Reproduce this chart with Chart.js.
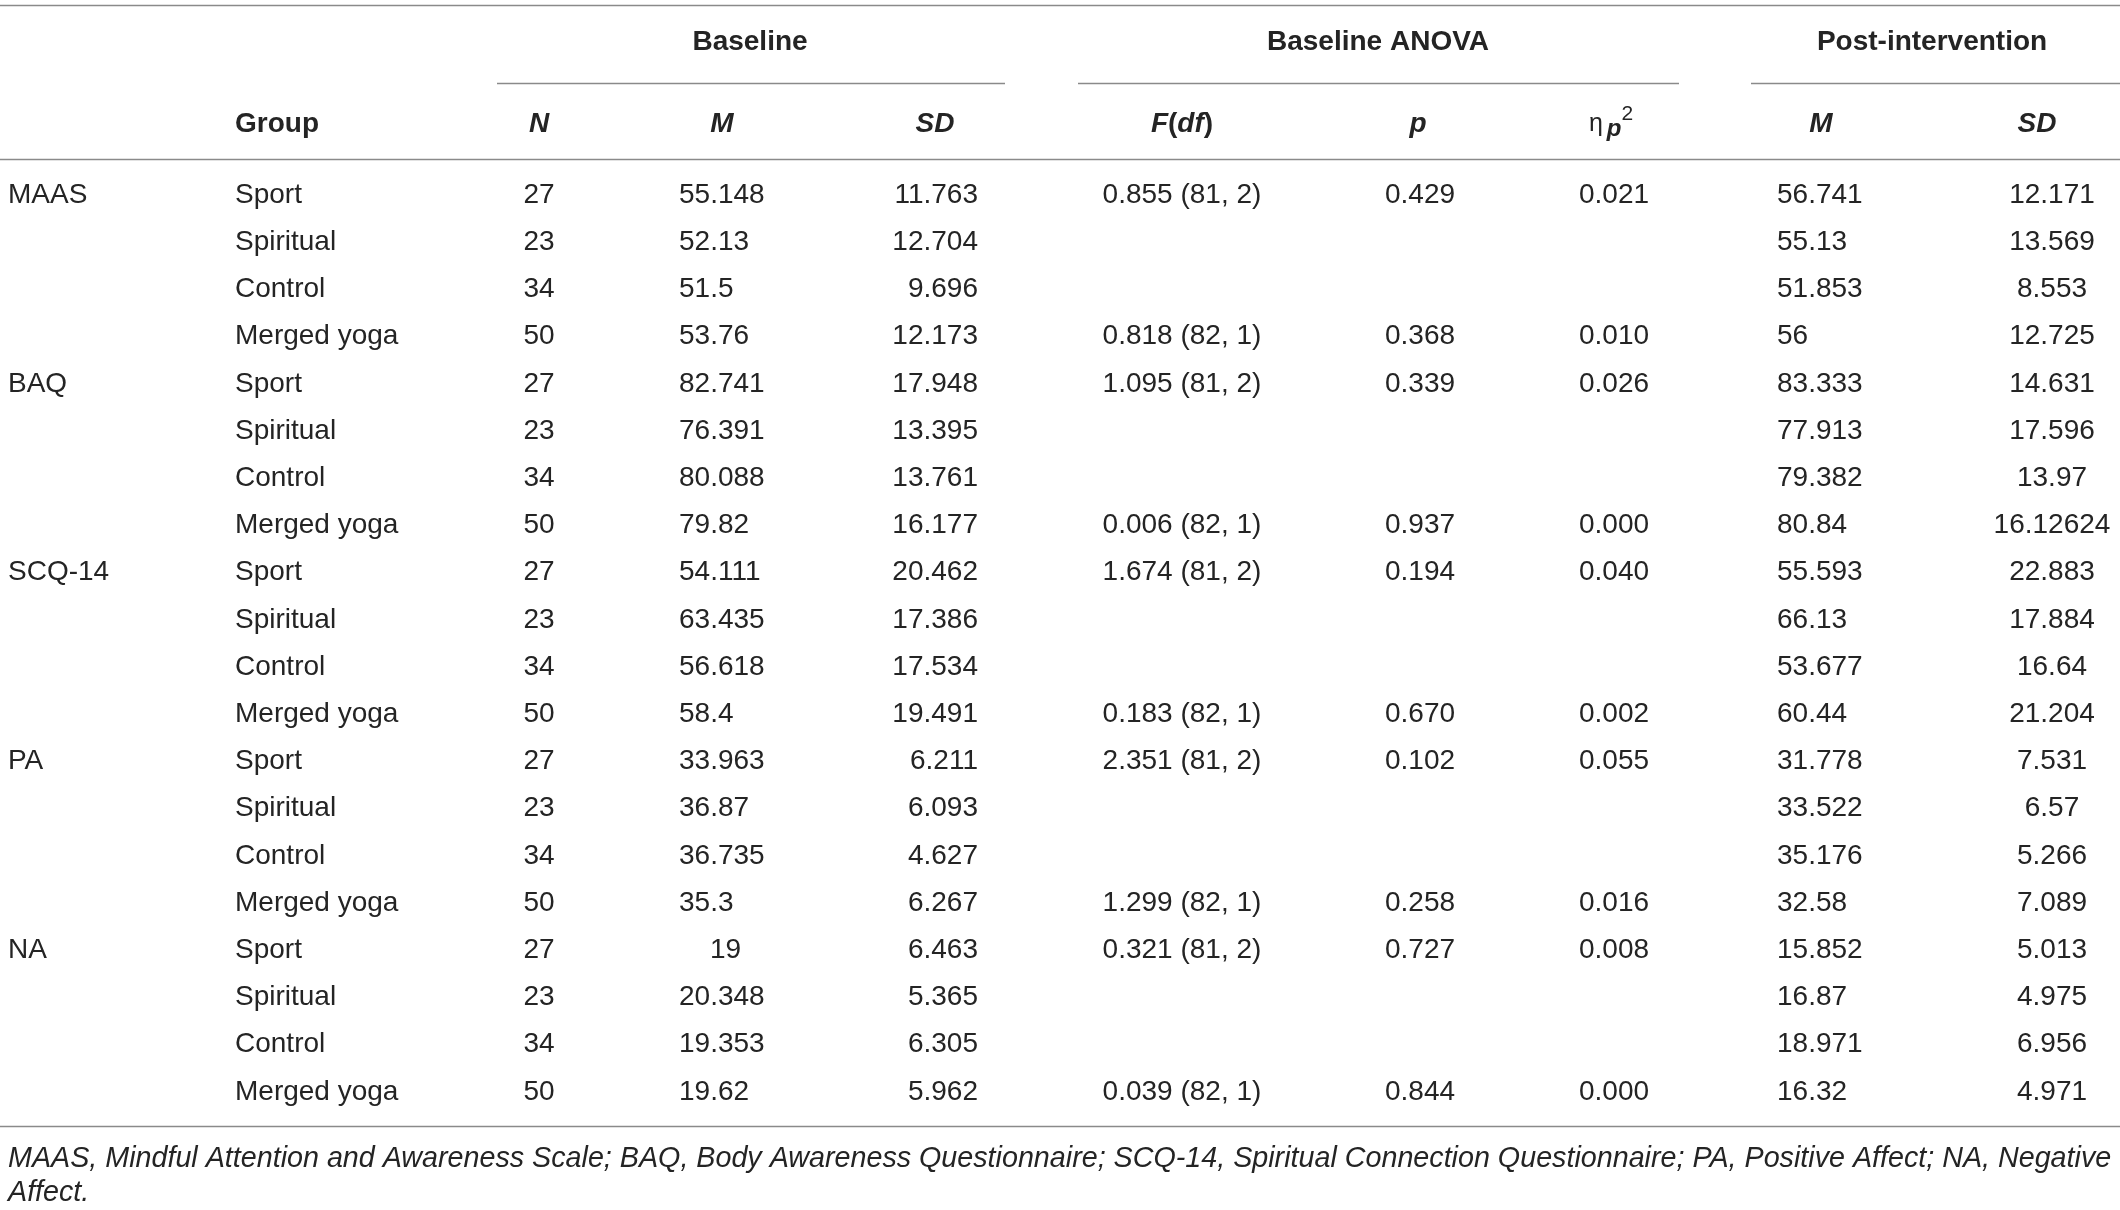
<!DOCTYPE html>
<html>
<head>
<meta charset="utf-8">
<script src="https://cdn.jsdelivr.net/npm/chart.js@4/dist/chart.umd.min.js"></script>
<style>
  html, body { margin: 0; padding: 0; background: #fff; }
  #wrap { width: 2120px; height: 1210px; position: relative; }
</style>
</head>
<body>
<div id="wrap"><canvas id="table-chart"></canvas></div>
<script>
// table contents, row order: Sport, Spiritual, Control, Merged yoga for each measure
const measures = ["MAAS", "BAQ", "SCQ-14", "PA", "NA"];
const groups = ["Sport", "Spiritual", "Control", "Merged yoga"];
const groupN = ["27", "23", "34", "50"];

const baseM = ["55.148", "52.13", "51.5", "53.76", "82.741", "76.391", "80.088", "79.82",
    "54.111", "63.435", "56.618", "58.4", "33.963", "36.87", "36.735", "35.3",
    "19", "20.348", "19.353", "19.62"];
const baseSD = ["11.763", "12.704", "9.696", "12.173", "17.948", "13.395", "13.761", "16.177",
    "20.462", "17.386", "17.534", "19.491", "6.211", "6.093", "4.627", "6.267",
    "6.463", "5.365", "6.305", "5.962"];

// ANOVA only on the Sport row (3 groups) and the Merged yoga row (2 groups)
const anovaF = ["0.855 (81, 2)", "0.818 (82, 1)", "1.095 (81, 2)", "0.006 (82, 1)",
    "1.674 (81, 2)", "0.183 (82, 1)", "2.351 (81, 2)", "1.299 (82, 1)",
    "0.321 (81, 2)", "0.039 (82, 1)"];
const anovaP = ["0.429", "0.368", "0.339", "0.937", "0.194", "0.670", "0.102", "0.258", "0.727", "0.844"];
const anovaEta = ["0.021", "0.010", "0.026", "0.000", "0.040", "0.002", "0.055", "0.016", "0.008", "0.000"];

const postM = ["56.741", "55.13", "51.853", "56", "83.333", "77.913", "79.382", "80.84",
    "55.593", "66.13", "53.677", "60.44", "31.778", "33.522", "35.176", "32.58",
    "15.852", "16.87", "18.971", "16.32"];
const postSD = ["12.171", "13.569", "8.553", "12.725", "14.631", "17.596", "13.97", "16.12624",
    "22.883", "17.884", "16.64", "21.204", "7.531", "6.57", "5.266", "7.089",
    "5.013", "4.975", "6.956", "4.971"];

const spanHeaders = ["Baseline", "Baseline ANOVA", "Post-intervention"];
const footnote = [
    "MAAS, Mindful Attention and Awareness Scale; BAQ, Body Awareness Questionnaire; SCQ-14, Spiritual Connection Questionnaire; PA, Positive Affect; NA, Negative",
    "Affect."
];

const FONT = "'Liberation Sans', Arial, Helvetica, sans-serif";
const TEXT = "#242424";
const RULE = "#8a8a8a";

// column x (in px units of the x scale) and alignment
const cols = {
    measure: { x: 8, align: "left" },
    group: { x: 235, align: "left" },
    n: { x: 539, align: "center" },
    bm: { x: 679, align: "left" },
    bsd: { x: 978, align: "right" },
    f: { x: 1182, align: "center" },
    p: { x: 1420, align: "center" },
    eta: { x: 1614, align: "center" },
    pm: { x: 1777, align: "left" },
    psd: { x: 2052, align: "center" }
};
// the lone "19" in baseline M sits indented in the original
const bmIndent = { 16: 31 };

// draw a list of styled runs as one piece of text
function drawRuns(ctx, runs, x, y, align) {
    let total = 0;
    runs.forEach(r => { ctx.font = r.font; total += ctx.measureText(r.text).width; });
    let cx = align === "center" ? x - total / 2 : (align === "right" ? x - total : x);
    ctx.textAlign = "left";
    runs.forEach(r => {
        ctx.font = r.font;
        ctx.fillText(r.text, cx, y + (r.dy || 0));
        cx += ctx.measureText(r.text).width;
    });
}

const tablePlugin = {
    id: "tableText",
    afterDraw(chart) {
        const ctx = chart.ctx;
        const xs = chart.scales.x;
        const ys = chart.scales.y;
        const px = v => xs.getPixelForValue(v);
        const py = v => ys.getPixelForValue(v);

        ctx.save();
        ctx.fillStyle = TEXT;
        ctx.textBaseline = "middle";

        const reg = "28px " + FONT;
        const bold = "bold 28px " + FONT;
        const boldIt = "italic bold 28px " + FONT;
        const it = "italic 28.7px " + FONT;

        function cell(text, col, row, font) {
            ctx.font = font || reg;
            ctx.textAlign = col.align;
            ctx.fillText(text, px(col.x), py(row));
        }

        // rules
        ctx.strokeStyle = RULE;
        ctx.lineWidth = 1.6;
        function hline(x0, x1, row) {
            const y = Math.round(py(row)) + 0.5;
            ctx.beginPath();
            ctx.moveTo(px(x0), y);
            ctx.lineTo(px(x1), y);
            ctx.stroke();
        }
        hline(0, 2120, -4.03);
        hline(497, 1005, -2.37);
        hline(1078, 1679, -2.37);
        hline(1751, 2120, -2.37);
        hline(0, 2120, -0.77);
        hline(0, 2120, 19.72);

        // spanning headers
        cell(spanHeaders[0], { x: 750, align: "center" }, -3.24, bold);
        cell(spanHeaders[1], { x: 1378, align: "center" }, -3.24, bold);
        cell(spanHeaders[2], { x: 1932, align: "center" }, -3.24, bold);

        // column headers
        const hy = -1.5;
        cell("Group", cols.group, hy, bold);
        cell("N", { x: 539, align: "center" }, hy, boldIt);
        cell("M", { x: 722, align: "center" }, hy, boldIt);
        cell("SD", { x: 935, align: "center" }, hy, boldIt);
        drawRuns(ctx, [
            { text: "F", font: boldIt },
            { text: "(", font: bold },
            { text: "df", font: boldIt },
            { text: ")", font: bold }
        ], px(1182), py(hy), "center");
        cell("p", { x: 1418, align: "center" }, hy, boldIt);
        drawRuns(ctx, [
            { text: "η", font: "25px " + FONT },
            { text: " ", font: "14px " + FONT },
            { text: "p", font: "italic bold 24px " + FONT, dy: 5 },
            { text: "2", font: "21px " + FONT, dy: -10 }
        ], px(1611), py(hy), "center");
        cell("M", { x: 1821, align: "center" }, hy, boldIt);
        cell("SD", { x: 2037, align: "center" }, hy, boldIt);

        // body rows
        measures.forEach((m, mi) => {
            groups.forEach((g, gi) => {
                const row = mi * groups.length + gi;
                if (gi === 0) cell(m, cols.measure, row);
                cell(g, cols.group, row);
                cell(groupN[gi], cols.n, row);
                cell(baseM[row], { x: cols.bm.x + (bmIndent[row] || 0), align: cols.bm.align }, row);
                cell(baseSD[row], cols.bsd, row);
                if (gi === 0 || gi === groups.length - 1) {
                    const k = mi * 2 + (gi === 0 ? 0 : 1);
                    cell(anovaF[k], cols.f, row);
                    cell(anovaP[k], cols.p, row);
                    cell(anovaEta[k], cols.eta, row);
                }
                cell(postM[row], cols.pm, row);
                cell(postSD[row], cols.psd, row);
            });
        });

        // footnote
        cell(footnote[0], { x: 8, align: "left" }, 20.42, it);
        cell(footnote[1], { x: 8, align: "left" }, 21.14, it);

        ctx.restore();
    }
};

function createTableChart() {
    const ctx = document.getElementById("table-chart").getContext("2d");
    const rowPx = 47.2;
    const yMin = -195 / rowPx;

    new Chart(ctx, {
        type: "scatter",
        data: { datasets: [] },
        options: {
            responsive: true,
            maintainAspectRatio: false,
            animation: false,
            devicePixelRatio: 1,
            layout: { padding: 0 },
            plugins: { legend: { display: false }, tooltip: { enabled: false } },
            scales: {
                x: { type: "linear", min: 0, max: 2120, display: false },
                y: { type: "linear", reverse: true, min: yMin, max: yMin + 1210 / rowPx, display: false }
            }
        },
        plugins: [tablePlugin]
    });
}

createTableChart();
</script>
</body>
</html>
